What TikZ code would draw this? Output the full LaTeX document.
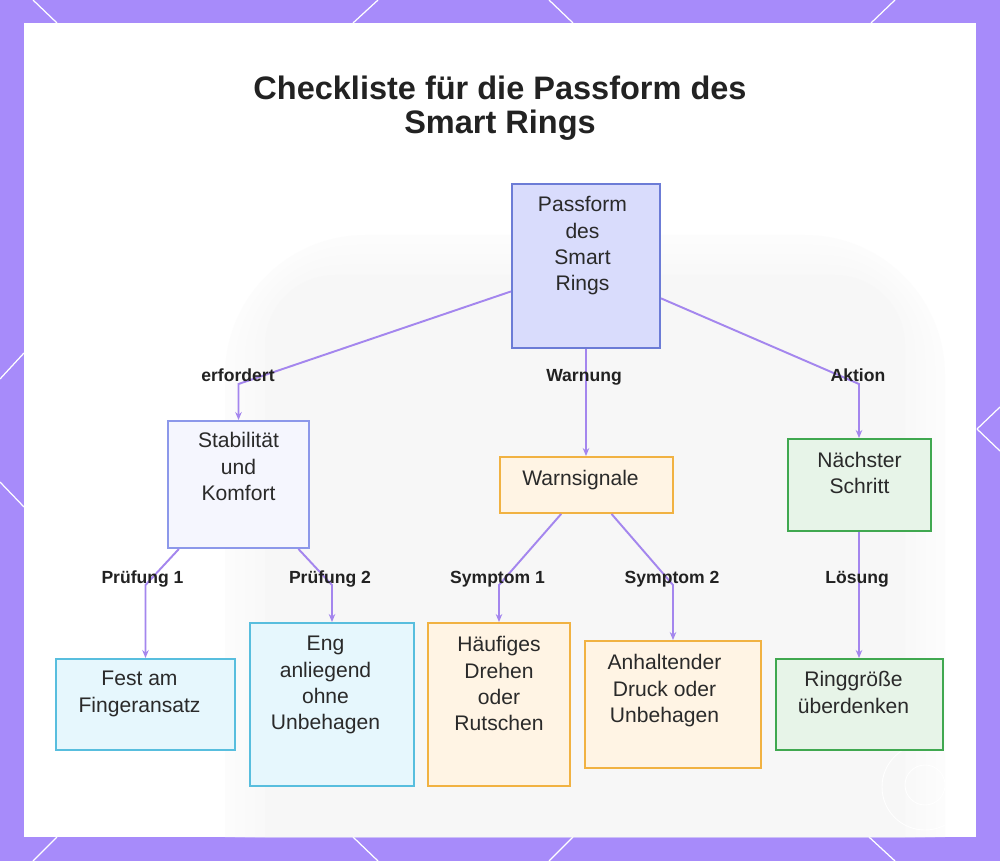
\documentclass[tikz,border=0pt]{standalone}
\usepackage{fontspec}
\setmainfont{Liberation Sans}
\usepackage{xcolor}
\usetikzlibrary{arrows.meta, positioning}
\definecolor{framec}{RGB}{167,139,250}
\definecolor{linkc}{RGB}{164,134,238}
\definecolor{titlec}{RGB}{34,34,34}
\definecolor{textc}{RGB}{42,42,42}
\definecolor{rootfill}{RGB}{217,220,252}
\definecolor{rootdraw}{RGB}{108,124,214}
\definecolor{stabfill}{RGB}{245,246,254}
\definecolor{stabdraw}{RGB}{140,152,234}
\definecolor{cyanfill}{RGB}{230,247,253}
\definecolor{cyandraw}{RGB}{88,190,222}
\definecolor{orfill}{RGB}{255,244,228}
\definecolor{ordraw}{RGB}{241,178,66}
\definecolor{grfill}{RGB}{231,244,232}
\definecolor{grdraw}{RGB}{64,168,80}
\tikzstyle{link} = [-{Stealth[length=1.6mm,width=1.3mm]}, line width=1.1pt, draw=linkc]
\tikzstyle{deco} = [white, line width=0.7pt]
\tikzset{
    box/.style={rectangle, line width=1.1pt, inner sep=0pt},
    rootbox/.style={box, fill=rootfill, draw=rootdraw},
    stabbox/.style={box, fill=stabfill, draw=stabdraw},
    cyanbox/.style={box, fill=cyanfill, draw=cyandraw},
    orbox/.style={box, fill=orfill, draw=ordraw},
    grbox/.style={box, fill=grfill, draw=grdraw},
    txt/.style={font=\fontsize{12}{15}\selectfont, text=textc, align=center, inner sep=0pt},
    edgelabel/.style={font=\fontsize{10}{12}\selectfont\bfseries, text=titlec, anchor=base, inner sep=0pt},
    title/.style={font=\fontsize{18.5}{19.3}\selectfont\bfseries, text=titlec, align=center, inner sep=0pt},
}

\begin{document}
\begin{tikzpicture}[x=0.02cm, y=-0.02cm]
    % frame
    \fill[framec] (0,0) rectangle (1000,861);
    \useasboundingbox (0,0) rectangle (1000,861);
    \foreach \xa/\ya/\xb/\yb in {33/0/57/23, 378/0/353/23, 549/0/573/23, 895/0/871/23,
        57/837/33/861, 353/837/378/861, 573/837/549/861, 869/837/895/861,
        24/353/0/379, 0/482/24/507, 977/429/1000/407, 977/429/1000/451}
        \draw[deco] (\xa,\ya) -- (\xb,\yb);
    \fill[white] (24,23) rectangle (976,837);
    % faded backdrop
    \foreach \d/\g in {40/2, 30/3, 20/4, 10/5, 0/6}
        \fill[gray!\g] (265-\d,837) [rounded corners=40+\d] -- (265-\d,275-\d) -- (905+\d,275-\d) [sharp corners] -- (905+\d,837) -- cycle;
    \draw[white, line width=0.5pt] (925,787) circle (43);
    \draw[white, line width=0.5pt] (925,785) circle (20);

    \node[title, anchor=north] (title) at (500,76) {Checkliste für die Passform des\\Smart Rings};

    % boxes
    \node[rootbox, minimum width=29.6mm, minimum height=32.8mm] (root) at (586,266) {};
    \node[txt, below=2.6mm of root.north, xshift=-0.7mm] (rootT) {Passform\\des\\Smart\\Rings};

    \node[stabbox, minimum width=28.2mm, minimum height=25.4mm] (stab) at (238.5,484.5) {};
    \node[txt, below=2.4mm of stab.north] (stabT) {Stabilität\\und\\Komfort};

    \node[orbox, minimum width=34.6mm, minimum height=11.2mm] (warn) at (586.5,485) {};
    \node[txt, below=2.7mm of warn.north, xshift=-1.2mm] (warnT) {Warnsignale};

    \node[grbox, minimum width=28.6mm, minimum height=18.4mm] (next) at (859.5,485) {};
    \node[txt, below=2.7mm of next.north] (nextT) {Nächster\\Schritt};

    \node[cyanbox, minimum width=35.8mm, minimum height=18.2mm] (fest) at (145.5,704.5) {};
    \node[txt, below=2.6mm of fest.north, xshift=-1.2mm] (festT) {Fest am\\Fingeransatz};

    \node[cyanbox, minimum width=32.8mm, minimum height=32.6mm] (eng) at (332,704.5) {};
    \node[txt, below=2.8mm of eng.north, xshift=-1.3mm] (engT) {Eng\\anliegend\\ohne\\Unbehagen};

    \node[orbox, minimum width=28.4mm, minimum height=32.6mm] (haeuf) at (499,704.5) {};
    \node[txt, below=2.8mm of haeuf.north] (haeufT) {Häufiges\\Drehen\\oder\\Rutschen};

    \node[orbox, minimum width=35.2mm, minimum height=25.4mm] (druck) at (673,704.5) {};
    \node[txt, below=2.8mm of druck.north, xshift=-1.7mm] (druckT) {Anhaltender\\Druck oder\\Unbehagen};

    \node[grbox, minimum width=33.4mm, minimum height=18.2mm] (ring) at (859.5,704.5) {};
    \node[txt, below=2.6mm of ring.north, xshift=-1.2mm] (ringT) {Ringgröße\\überdenken};

    % connectors
    \coordinate (bStab) at (238.5,384);
    \coordinate (bNext) at (859,384);
    \coordinate (bFest) at (145.5,585);
    \coordinate (bEng) at (332,585);
    \coordinate (bHaeuf) at (499,585);
    \coordinate (bDruck) at (673,585);
    \draw[link] (root) -- (bStab) -- (stab);
    \draw[link] (root.south) -- (root.south |- warn.north);
    \draw[link] (root) -- (bNext) -- (bNext |- next.north);
    \draw[link] (stab) -- (bFest) -- (fest);
    \draw[link] (stab) -- (bEng) -- (eng);
    \draw[link] (warn) -- (bHaeuf) -- (haeuf);
    \draw[link] (warn) -- (bDruck) -- (druck);
    \draw[link] ([xshift=-0.1mm]next.south) -- ([xshift=-0.1mm]ring.north);

    % connector labels
    \node[edgelabel] (lErf) at (238,381) {erfordert};
    \node[edgelabel] (lWarn) at (584,381) {Warnung};
    \node[edgelabel] (lAkt) at (858,381) {Aktion};
    \node[edgelabel] (lP1) at (142.5,583) {Prüfung 1};
    \node[edgelabel] (lP2) at (330,583) {Prüfung 2};
    \node[edgelabel] (lS1) at (497.5,583) {Symptom 1};
    \node[edgelabel] (lS2) at (672,583) {Symptom 2};
    \node[edgelabel] (lLoes) at (857,583) {Lösung};
\end{tikzpicture}
\end{document}
